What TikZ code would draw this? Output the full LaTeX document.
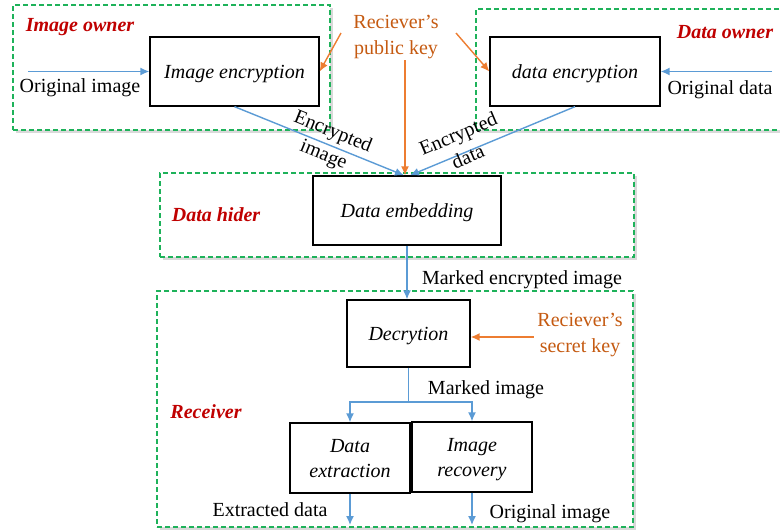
\documentclass[tikz,border=0pt]{standalone}
\usepackage{fontspec}
\setmainfont{Liberation Serif}
\usetikzlibrary{shadows,arrows.meta}
\definecolor{flowblue}{RGB}{91,155,213}
\definecolor{keyorange}{RGB}{237,125,49}
\definecolor{keytext}{RGB}{197,90,17}
\definecolor{rolered}{RGB}{192,0,0}
\definecolor{zonegreen}{RGB}{30,178,90}

\begin{document}
\begin{tikzpicture}[x=1pt, y=-1pt,
		font=\fontsize{20}{25}\selectfont,
		zone/.style={draw=zonegreen, dash pattern=on 5pt off 3pt, line width=1.2pt, fill=white, inner sep=0pt,
			drop shadow={shadow xshift=2.5pt, shadow yshift=-2.5pt, opacity=0.3, fill=gray}},
		proc/.style={draw, line width=1.3pt, fill=white, inner sep=0pt, align=center, text depth=0pt,
			font=\fontsize{20}{25}\selectfont\itshape},
		role/.style={text=rolered, font=\fontsize{20}{25}\selectfont\bfseries\itshape},
		keynote/.style={text=keytext, align=center, font=\fontsize{20}{26}\selectfont},
		flow/.style={draw=flowblue, line width=1.4pt, -{Latex[length=9pt,width=8pt]}},
		keyflow/.style={draw=keyorange, line width=1.4pt, -{Latex[length=9pt,width=8pt]}}]
		\useasboundingbox (0,0) rectangle (780,531);

		% dashed zones
		\node[zone, minimum width=317pt, minimum height=125pt] (iown) at (171.5,67.5) {};
		\node[zone, minimum width=319pt, minimum height=121pt] (down) at (635.5,69.5) {};
		\node[zone, minimum width=474pt, minimum height=84pt] (hider) at (397,215) {};
		\node[zone, minimum width=476pt, minimum height=236pt] (recv) at (395,409) {};

		\node[role] (iownlbl) at (80,27) {Image owner};
		\node[role] (downlbl) at (725,32) {Data owner};
		\node[role] (hiderlbl) at (216,215) {Data hider};
		\node[role] (recvlbl) at (206,412) {Receiver};

		% process boxes
		\node[proc, minimum width=169pt, minimum height=69pt] (ienc) at (234.5,71.5) {Image encryption};
		\node[proc, minimum width=170pt, minimum height=69pt] (denc) at (575,71.5) {data encryption};
		\node[proc, minimum width=188pt, minimum height=69pt] (emb) at (407,210.5) {Data embedding};
		\node[proc, minimum width=123pt, minimum height=67pt] (dec) at (408.5,333.5) {Decrytion};
		\node[proc, minimum width=120pt, minimum height=70pt] (dext) at (350,458) {Data\\extraction};
		\node[proc, minimum width=120pt, minimum height=70pt] (irec) at (472,457) {Image\\recovery};

		% keys
		\node[keynote] (pubkey) at (396,37) {Reciever's\\public key};
		\node[keynote] (seckey) at (580,335) {Reciever's\\secret key};
		\coordinate (pk1) at (341,33);
		\coordinate (pk2) at (456,33);
		\coordinate (pk3) at (405,60);
		\draw[keyflow] (pk1) -- (ienc.east);
		\draw[keyflow] (pk2) -- (denc.west);
		\draw[keyflow] (pk3) -- (pk3 |- emb.north);
		\draw[keyflow] ([yshift=-2pt]seckey.west) -- ([yshift=-2pt]seckey.west -| dec.east);

		% inputs
		\coordinate (imgin) at (28,71.5);
		\coordinate (datain) at (772,71.5);
		\draw[flow] (imgin) -- (ienc.west);
		\draw[flow] (datain) -- (denc.east);
		\node (imgtxt) at (80,88) {Original image};
		\node (datatxt) at (720,90) {Original data};

		% to embedding
		\draw[flow] (ienc.south) -- ([xshift=-3pt]emb.north);
		\draw[flow] (denc.south) -- ([xshift=3pt]emb.north);
		\node[rotate=-22, align=center] (encimg) at (328,144) {Encrypted\\image};
		\node[rotate=23, align=center] (encdat) at (463,145) {Encrypted\\data};

		\draw[flow] (emb.south) -- (emb.south |- dec.north);
		\node (markenc) at (522,280) {Marked encrypted image};

		% receiver side
		\coordinate (split) at (408.5,402);
		\draw[flow, -] (dec.south) -- (split);
		\draw[flow] (split) -| (dext.north);
		\draw[flow] (split) -| (irec.north);
		\node (marktxt) at (486,390) {Marked image};

		\coordinate (exout) at (350,525);
		\coordinate (imout) at (472,525);
		\draw[flow] (dext.south) -- (exout);
		\draw[flow] (irec.south) -- (imout);
		\node (extxt) at (270,510) {Extracted data};
		\node (origtxt) at (550,514) {Original image};
	\end{tikzpicture}
\end{document}
